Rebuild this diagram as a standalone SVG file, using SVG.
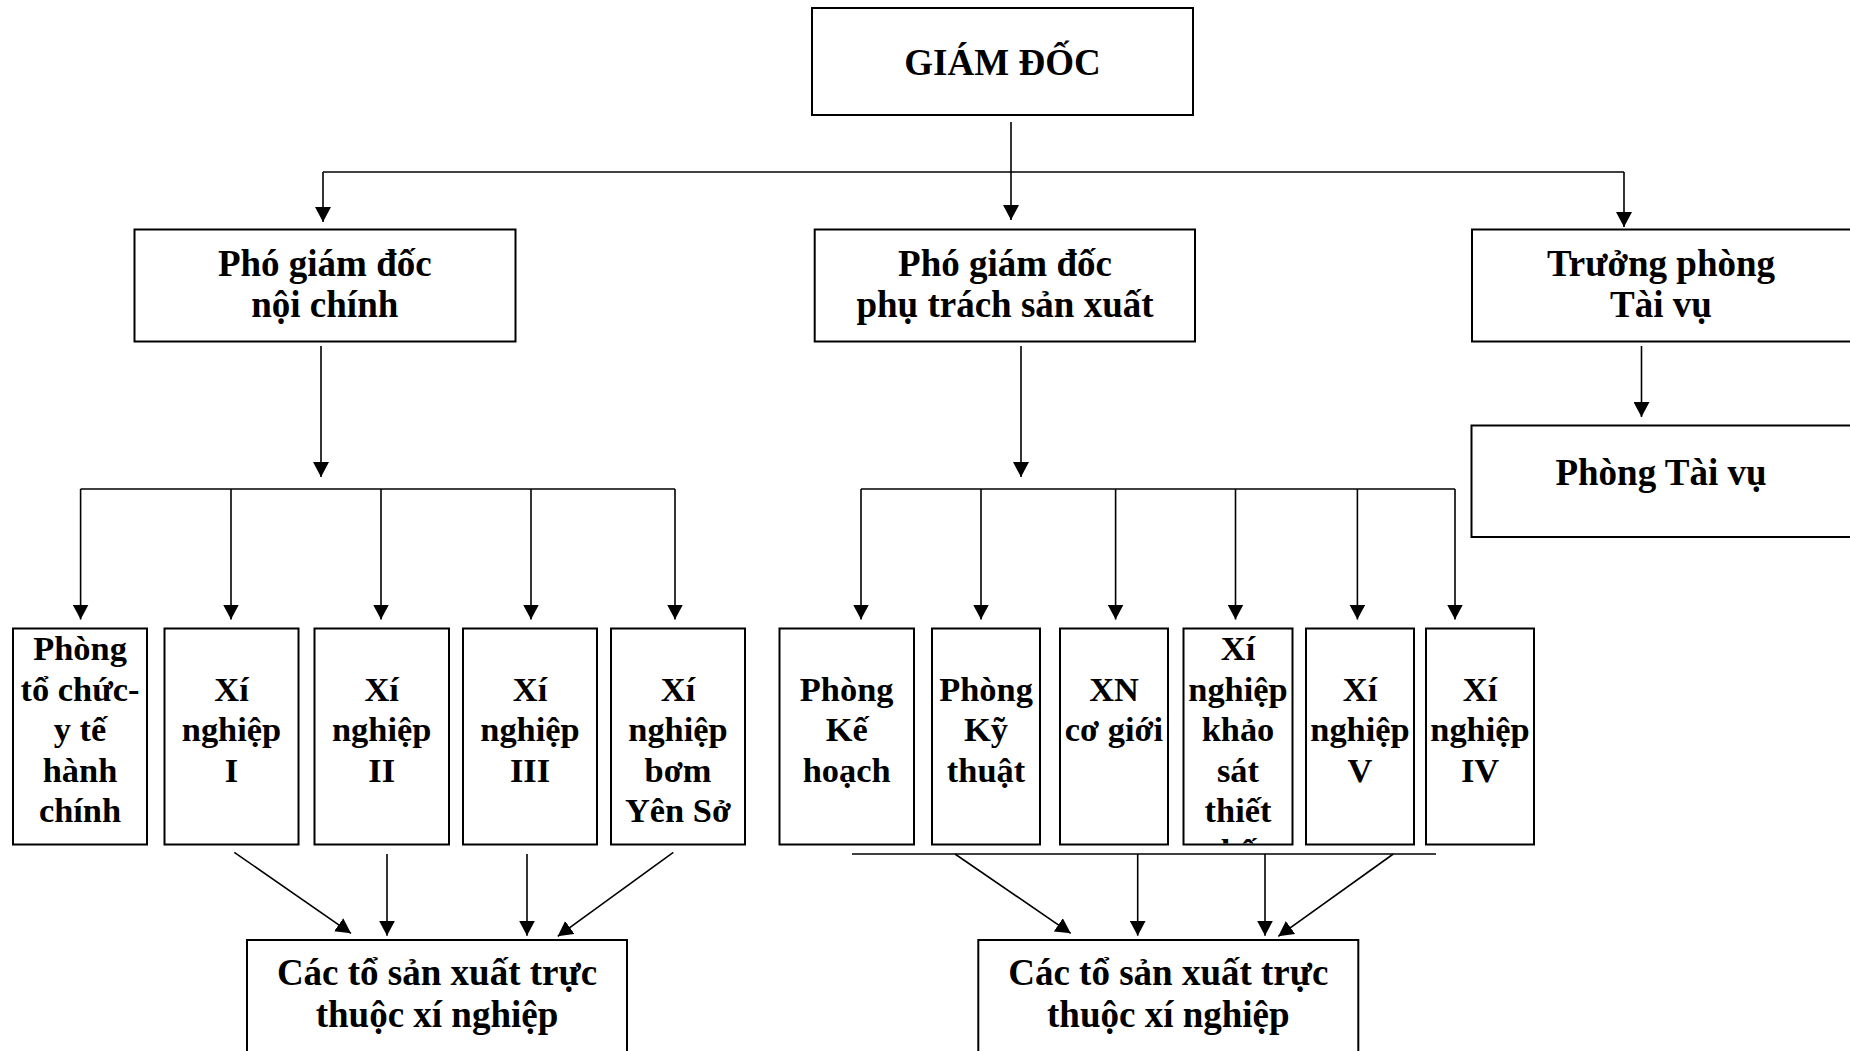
<svg xmlns="http://www.w3.org/2000/svg" width="1850" height="1051" viewBox="0 0 1850 1051">
<style>
.box{fill:#fff;stroke:#000;stroke-width:2}
.t{font-family:"Liberation Serif","Times New Roman",serif;font-weight:bold;font-size:37px;text-anchor:middle;fill:#000}
.s{font-size:34.4px}
.c{stroke:#000;stroke-width:1.6;fill:none}
.a{marker-end:url(#ah)}
</style>
<defs>
<marker id="ah" viewBox="0 0 15 16" refX="15" refY="8" markerWidth="15" markerHeight="16" markerUnits="userSpaceOnUse" orient="auto"><path d="M0,0 L15,8 L0,16 Z" fill="#000"/></marker>
<clipPath id="clipks"><rect x="1184.5" y="629.5" width="107" height="214"/></clipPath>
</defs>
<rect width="1850" height="1051" fill="#fff"/>
<g id="connectors">
<path class="c a" d="M1011,122 V220"/>
<path class="c" d="M323,172 H1624"/>
<path class="c a" d="M323,172 V222"/>
<path class="c a" d="M1624,172 V227"/>
<path class="c a" d="M321,346 V477"/>
<path class="c" d="M80.6,489 H675"/>
<path class="c a" d="M80.6,489 V619.5"/>
<path class="c a" d="M231,489 V619.5"/>
<path class="c a" d="M381,489 V619.5"/>
<path class="c a" d="M531,489 V619.5"/>
<path class="c a" d="M675,489 V619.5"/>
<path class="c a" d="M1021,346 V477"/>
<path class="c" d="M861,489 H1455"/>
<path class="c a" d="M861,489 V619.5"/>
<path class="c a" d="M981,489 V619.5"/>
<path class="c a" d="M1115.6,489 V619.5"/>
<path class="c a" d="M1235.5,489 V619.5"/>
<path class="c a" d="M1357.4,489 V619.5"/>
<path class="c a" d="M1455,489 V619.5"/>
<path class="c a" d="M1641.5,346 V417"/>
<path class="c a" d="M234.3,852.3 L351,933.3"/>
<path class="c a" d="M387,854 V935.7"/>
<path class="c a" d="M527,854 V935.7"/>
<path class="c a" d="M673.3,852.3 L557.7,936.3"/>
<path class="c" d="M852,854 H1436"/>
<path class="c a" d="M955,854 L1070.7,933.3"/>
<path class="c a" d="M1137.7,854 V935.7"/>
<path class="c a" d="M1265,854 V935.7"/>
<path class="c a" d="M1393.3,854 L1278.3,936.3"/>
</g>
<g id="giam-doc"><rect class="box" x="812" y="8" width="381" height="107"/><text class="t" x="1002.5" y="75">GIÁM ĐỐC</text></g>
<g id="pgd-noi-chinh"><rect class="box" x="134.5" y="229.5" width="381" height="112"/><text class="t" x="324.8" y="276">Phó giám đốc</text><text class="t" x="324.8" y="317">nội chính</text></g>
<g id="pgd-san-xuat"><rect class="box" x="814.7" y="229.5" width="380.3" height="112"/><text class="t" x="1005" y="276">Phó giám đốc</text><text class="t" x="1005" y="317">phụ trách sản xuất</text></g>
<g id="truong-phong-tai-vu"><rect class="box" x="1472" y="229.5" width="400" height="112"/><text class="t" x="1661" y="276">Trưởng phòng</text><text class="t" x="1661" y="317">Tài vụ</text></g>
<g id="phong-tai-vu"><rect class="box" x="1471.5" y="425.5" width="400" height="111.5"/><text class="t" x="1661" y="485">Phòng Tài vụ</text></g>
<g id="phong-to-chuc"><rect class="box" x="13" y="628.5" width="134" height="216"/><text class="t s" x="80" y="660">Phòng</text><text class="t s" x="80" y="700.5">tổ chức-</text><text class="t s" x="80" y="741">y tế</text><text class="t s" x="80" y="781.5">hành</text><text class="t s" x="80" y="822">chính</text></g>
<g id="xi-nghiep-1"><rect class="box" x="164.5" y="628.5" width="134" height="216"/><text class="t s" x="231.5" y="700.5">Xí</text><text class="t s" x="231.5" y="741">nghiệp</text><text class="t s" x="231.5" y="781.5">I</text></g>
<g id="xi-nghiep-2"><rect class="box" x="314.5" y="628.5" width="134.5" height="216"/><text class="t s" x="381.7" y="700.5">Xí</text><text class="t s" x="381.7" y="741">nghiệp</text><text class="t s" x="381.7" y="781.5">II</text></g>
<g id="xi-nghiep-3"><rect class="box" x="463" y="628.5" width="134" height="216"/><text class="t s" x="530" y="700.5">Xí</text><text class="t s" x="530" y="741">nghiệp</text><text class="t s" x="530" y="781.5">III</text></g>
<g id="xi-nghiep-bom"><rect class="box" x="611" y="628.5" width="134" height="216"/><text class="t s" x="678" y="700.5">Xí</text><text class="t s" x="678" y="741">nghiệp</text><text class="t s" x="678" y="781.5">bơm</text><text class="t s" x="678" y="822">Yên Sở</text></g>
<g id="phong-ke-hoach"><rect class="box" x="779.5" y="628.5" width="134.5" height="216"/><text class="t s" x="846.7" y="700.5">Phòng</text><text class="t s" x="846.7" y="741">Kế</text><text class="t s" x="846.7" y="781.5">hoạch</text></g>
<g id="phong-ky-thuat"><rect class="box" x="932" y="628.5" width="108" height="216"/><text class="t s" x="986" y="700.5">Phòng</text><text class="t s" x="986" y="741">Kỹ</text><text class="t s" x="986" y="781.5">thuật</text></g>
<g id="xn-co-gioi"><rect class="box" x="1060" y="628.5" width="108" height="216"/><text class="t s" x="1114" y="700.5">XN</text><text class="t s" x="1114" y="741">cơ giới</text></g>
<g id="xn-khao-sat"><rect class="box" x="1183.5" y="628.5" width="109" height="216"/><g clip-path="url(#clipks)"><text class="t s" x="1238" y="660">Xí</text><text class="t s" x="1238" y="700.5">nghiệp</text><text class="t s" x="1238" y="741">khảo</text><text class="t s" x="1238" y="781.5">sát</text><text class="t s" x="1238" y="822">thiết</text><text class="t s" x="1238" y="862.5">kế</text></g></g>
<g id="xi-nghiep-5"><rect class="box" x="1306" y="628.5" width="108" height="216"/><text class="t s" x="1360" y="700.5">Xí</text><text class="t s" x="1360" y="741">nghiệp</text><text class="t s" x="1360" y="781.5">V</text></g>
<g id="xi-nghiep-4"><rect class="box" x="1426" y="628.5" width="108" height="216"/><text class="t s" x="1480" y="700.5">Xí</text><text class="t s" x="1480" y="741">nghiệp</text><text class="t s" x="1480" y="781.5">IV</text></g>
<g id="to-san-xuat-1"><rect class="box" x="247" y="940" width="380" height="130"/><text class="t" x="437" y="985">Các tổ sản xuất trực</text><text class="t" x="437" y="1027">thuộc xí nghiệp</text></g>
<g id="to-san-xuat-2"><rect class="box" x="978.3" y="940" width="380" height="130"/><text class="t" x="1168.3" y="985">Các tổ sản xuất trực</text><text class="t" x="1168.3" y="1027">thuộc xí nghiệp</text></g>
</svg>
